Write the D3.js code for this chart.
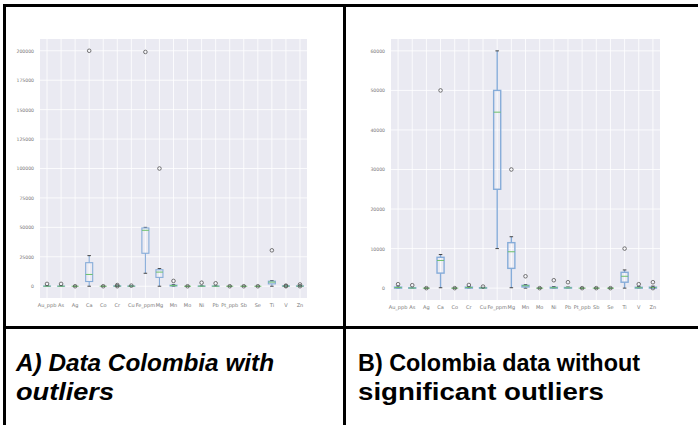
<!DOCTYPE html>
<html lang="en">
<head>
<meta charset="UTF-8">
<title>Colombia boxplots</title>
<style>
  body { margin: 0; background: #fff; }
</style>
</head>
<body>
<script src="https://d3js.org/d3.v7.min.js"></script>
<script>
// elements on the x axis (same for both panels)
let cats = ["Au_ppb","As","Ag","Ca","Co","Cr","Cu","Fe_ppm","Mg","Mn","Mo","Ni","Pb","Pt_ppb","Sb","Se","Ti","V","Zn"];

// panel A: with outliers
let aLow  = [0,0,0,0,0,0,0,11000,0,0,0,0,0,0,0,0,0,0,0];
let aQ1   = [0,0,0,4000,0,0,0,28000,7500,200,0,0,0,0,0,0,2000,0,0];
let aMed  = [50,30,0,10000,0,100,50,47500,12000,500,0,50,50,0,0,0,3500,100,100];
let aQ3   = [150,100,0,20000,0,300,150,49500,14000,900,0,150,150,0,0,0,4300,300,300];
let aHigh = [400,300,0,26000,0,700,400,50000,15000,1500,0,400,400,0,0,0,4800,700,700];
let aOut  = [[2000],[2000],[0],[200000],[0],[1000,0],[500],[199000],[100000],[4500],[0],[3000],[2500],[0],[0],[0],[30500],[500,0],[1500,0]];
let aTicks = [0,25000,50000,75000,100000,125000,150000,175000,200000];

// panel B: without significant outliers
let bLow  = [0,0,0,100,0,0,0,10000,100,0,0,0,0,0,0,0,0,0,0];
let bQ1   = [0,0,0,3800,0,0,0,25000,5000,300,0,0,0,0,0,0,1500,0,0];
let bMed  = [150,30,0,7000,0,150,50,44500,9200,600,0,100,80,0,0,0,3000,100,150];
let bQ3   = [250,80,0,7800,0,250,100,50000,11500,700,0,200,150,0,0,0,4000,200,250];
let bHigh = [500,200,0,8500,0,400,200,60000,13000,900,0,400,300,0,0,0,4600,400,500];
let bOut  = [[1000],[750],[0],[50000],[0],[800],[400],[],[30000],[3000],[0],[2000],[1500],[0],[0],[0],[10000],[1000],[1500,0]];
let bTicks = [0,10000,20000,30000,40000,50000,60000];

let W = 698, H = 425;
let svg = d3.select("body").append("svg")
  .attr("width", W).attr("height", H);

function boxPanel(left, top, right, bottom, yDomain, ticks, low, q1, med, q3, high, out, lw) {
  let g = svg.append("g");
  let x = d3.scaleBand().domain(cats).range([left, right]);
  let y = d3.scaleLinear().domain(yDomain).range([bottom, top]);

  g.append("rect")
    .attr("x", left).attr("y", top)
    .attr("width", right - left).attr("height", bottom - top)
    .attr("fill", "#eaeaf2");

  // grid
  g.selectAll(".hg").data(ticks).enter().append("line")
    .attr("x1", left).attr("x2", right)
    .attr("y1", d => y(d)).attr("y2", d => y(d))
    .attr("stroke", "#fff").attr("stroke-width", 0.8);
  g.selectAll(".vg").data(cats).enter().append("line")
    .attr("y1", top).attr("y2", bottom)
    .attr("x1", d => x(d) + x.bandwidth() / 2).attr("x2", d => x(d) + x.bandwidth() / 2)
    .attr("stroke", "#fff").attr("stroke-width", 0.8);

  // axes (labels only, seaborn style)
  let yAxis = g.append("g")
    .attr("transform", "translate(" + (left - 3) + ",0)")
    .call(d3.axisLeft(y).tickValues(ticks).tickSize(0).tickFormat(d3.format("d")));
  yAxis.select(".domain").remove();
  yAxis.selectAll("text")
    .attr("font-family", "DejaVu Sans").attr("font-size", 4.6).attr("fill", "#777");

  let xAxis = g.append("g")
    .attr("transform", "translate(0," + (bottom + 2) + ")")
    .call(d3.axisBottom(x).tickSize(0));
  xAxis.select(".domain").remove();
  xAxis.selectAll("text")
    .attr("font-family", "DejaVu Sans").attr("font-size", 5).attr("fill", "#777");

  let bw = x.bandwidth() * 0.5;
  let blue = "#86acd9";
  cats.forEach((c, i) => {
    let cx = x(c) + x.bandwidth() / 2;
    // whiskers
    g.append("line").attr("x1", cx).attr("x2", cx)
      .attr("y1", y(high[i])).attr("y2", y(q3[i]))
      .attr("stroke", blue).attr("stroke-width", lw);
    g.append("line").attr("x1", cx).attr("x2", cx)
      .attr("y1", y(q1[i])).attr("y2", y(low[i]))
      .attr("stroke", blue).attr("stroke-width", lw);
    // caps
    [low[i], high[i]].forEach(v => {
      g.append("line").attr("x1", cx - bw / 4).attr("x2", cx + bw / 4)
        .attr("y1", y(v)).attr("y2", y(v))
        .attr("stroke", "#333").attr("stroke-width", 0.9);
    });
    // box
    g.append("rect")
      .attr("x", cx - bw / 2).attr("width", bw)
      .attr("y", y(q3[i])).attr("height", Math.max(0, y(q1[i]) - y(q3[i])))
      .attr("fill", "none").attr("stroke", blue).attr("stroke-width", lw);
    // median
    g.append("line").attr("x1", cx - bw / 2).attr("x2", cx + bw / 2)
      .attr("y1", y(med[i])).attr("y2", y(med[i]))
      .attr("stroke", "#6cc06c").attr("stroke-width", 1);
    // fliers
    g.selectAll(null).data(out[i]).enter().append("circle")
      .attr("cx", cx).attr("cy", d => y(d)).attr("r", 1.8)
      .attr("fill", "none").attr("stroke", "#555").attr("stroke-width", 0.8);
  });
}

boxPanel(40, 39, 307, 298, [-10000, 210000], aTicks, aLow, aQ1, aMed, aQ3, aHigh, aOut, 1.1);
boxPanel(391, 39, 660, 300, [-3000, 63000], bTicks, bLow, bQ1, bMed, bQ3, bHigh, bOut, 1.4);

// table borders
let bc = "#000", bwid = 3;
svg.append("line").attr("x1", 3).attr("x2", W).attr("y1", 5.5).attr("y2", 5.5).attr("stroke", bc).attr("stroke-width", bwid);
svg.append("line").attr("x1", 4.5).attr("x2", 4.5).attr("y1", 4).attr("y2", H).attr("stroke", bc).attr("stroke-width", bwid);
svg.append("line").attr("x1", 344.5).attr("x2", 344.5).attr("y1", 4).attr("y2", H).attr("stroke", bc).attr("stroke-width", bwid);
svg.append("line").attr("x1", 3).attr("x2", W).attr("y1", 327.5).attr("y2", 327.5).attr("stroke", bc).attr("stroke-width", bwid);

// captions (the original face is narrower and taller, so widths are fixed)
function caption(xPos, lines, italic) {
  let t = svg.append("text").attr("font-family", "Liberation Sans").attr("font-weight", "bold")
    .attr("font-style", italic ? "italic" : "normal").attr("font-size", 24).attr("fill", "#000");
  lines.forEach((l, i) => {
    t.append("tspan").attr("x", xPos).attr("y", 371 + i * 29)
      .attr("textLength", l.len).attr("lengthAdjust", "spacingAndGlyphs").text(l.text);
  });
}
caption(16, [{text: "A) Data Colombia with", len: 258}, {text: "outliers", len: 98}], true);
caption(358, [{text: "B) Colombia data without", len: 282}, {text: "significant outliers", len: 246}], false);
</script>
</body>
</html>
